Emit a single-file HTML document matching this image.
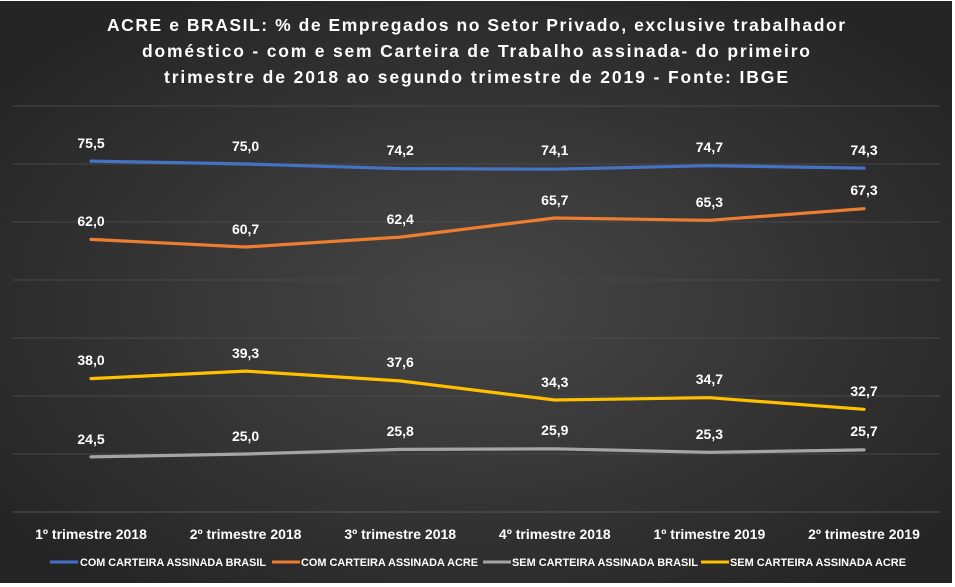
<!DOCTYPE html>
<html><head><meta charset="utf-8"><style>
html,body{margin:0;padding:0;background:#fff}
svg{display:block}
text{font-family:"Liberation Sans",sans-serif;font-weight:bold;fill:#fff}
</style></head><body>
<svg width="955" height="587" viewBox="0 0 955 587">
<defs>
<radialGradient id="bg" cx="0.5" cy="0.52" r="0.62">
<stop offset="0" stop-color="#474747"/>
<stop offset="1" stop-color="#252525"/>
</radialGradient>
</defs>
<rect x="0" y="1" width="952" height="582" fill="url(#bg)"/>
<g stroke="#484848" stroke-width="1">
<line x1="13" x2="940" y1="106" y2="106"/>
<line x1="13" x2="940" y1="164" y2="164"/>
<line x1="13" x2="940" y1="222" y2="222"/>
<line x1="13" x2="940" y1="280" y2="280"/>
<line x1="13" x2="940" y1="338" y2="338"/>
<line x1="13" x2="940" y1="396" y2="396"/>
<line x1="13" x2="940" y1="454" y2="454"/>
<line x1="13" x2="940" y1="512" y2="512" stroke="#555"/>
</g>
<g font-size="17.5">
<text x="107" y="31" textLength="738" lengthAdjust="spacing">ACRE e BRASIL: % de Empregados no Setor Privado, exclusive trabalhador</text>
<text x="142" y="57" textLength="668" lengthAdjust="spacing">doméstico - com e sem Carteira de Trabalho assinada- do primeiro</text>
<text x="164" y="83" textLength="624" lengthAdjust="spacing">trimestre de 2018 ao segundo trimestre de 2019 - Fonte: IBGE</text>
</g>
<g fill="none" stroke-width="3.2" stroke-linejoin="round" stroke-linecap="round">
<polyline stroke="#4472c4" points="91,161.1 245.6,164 400.2,168.6 554.8,169.2 709.4,165.7 864,168.1"/>
<polyline stroke="#ed7d31" points="91,239.4 245.6,247 400.2,237.1 554.8,218 709.4,220.3 864,208.7"/>
<polyline stroke="#ffc000" points="91,378.6 245.6,371.1 400.2,380.9 554.8,400 709.4,397.7 864,409.3"/>
<polyline stroke="#a5a5a5" points="91,456.9 245.6,454 400.2,449.4 554.8,448.8 709.4,452.3 864,449.9"/>
</g>
<g text-anchor="middle" font-size="14">
<text x="91" y="148">75,5</text><text x="245.6" y="151">75,0</text><text x="400.2" y="155">74,2</text><text x="554.8" y="155">74,1</text><text x="709.4" y="152">74,7</text><text x="864" y="155">74,3</text>
<text x="91" y="226">62,0</text><text x="245.6" y="234">60,7</text><text x="400.2" y="224">62,4</text><text x="554.8" y="205">65,7</text><text x="709.4" y="207">65,3</text><text x="864" y="195">67,3</text>
<text x="91" y="365">38,0</text><text x="245.6" y="358">39,3</text><text x="400.2" y="367">37,6</text><text x="554.8" y="387">34,3</text><text x="709.4" y="384">34,7</text><text x="864" y="396">32,7</text>
<text x="91" y="444">24,5</text><text x="245.6" y="441">25,0</text><text x="400.2" y="436">25,8</text><text x="554.8" y="435">25,9</text><text x="709.4" y="439">25,3</text><text x="864" y="436">25,7</text>
</g>
<g text-anchor="middle" font-size="14">
<text x="91" y="539">1º trimestre 2018</text>
<text x="245.6" y="539">2º trimestre 2018</text>
<text x="400.2" y="539">3º trimestre 2018</text>
<text x="554.8" y="539">4º trimestre 2018</text>
<text x="709.4" y="539">1º trimestre 2019</text>
<text x="864" y="539">2º trimestre 2019</text>
</g>
<g stroke-width="3">
<line x1="50" x2="78" y1="562" y2="562" stroke="#4472c4"/>
<line x1="272" x2="300" y1="562" y2="562" stroke="#ed7d31"/>
<line x1="483" x2="511" y1="562" y2="562" stroke="#a5a5a5"/>
<line x1="701" x2="729" y1="562" y2="562" stroke="#ffc000"/>
</g>
<g font-size="11">
<text x="80" y="566" textLength="186" lengthAdjust="spacingAndGlyphs">COM CARTEIRA ASSINADA BRASIL</text>
<text x="301" y="566" textLength="177" lengthAdjust="spacingAndGlyphs">COM CARTEIRA ASSINADA ACRE</text>
<text x="512" y="566" textLength="186" lengthAdjust="spacingAndGlyphs">SEM CARTEIRA ASSINADA BRASIL</text>
<text x="730" y="566" textLength="176" lengthAdjust="spacingAndGlyphs">SEM CARTEIRA ASSINADA ACRE</text>
</g>
</svg>
</body></html>
